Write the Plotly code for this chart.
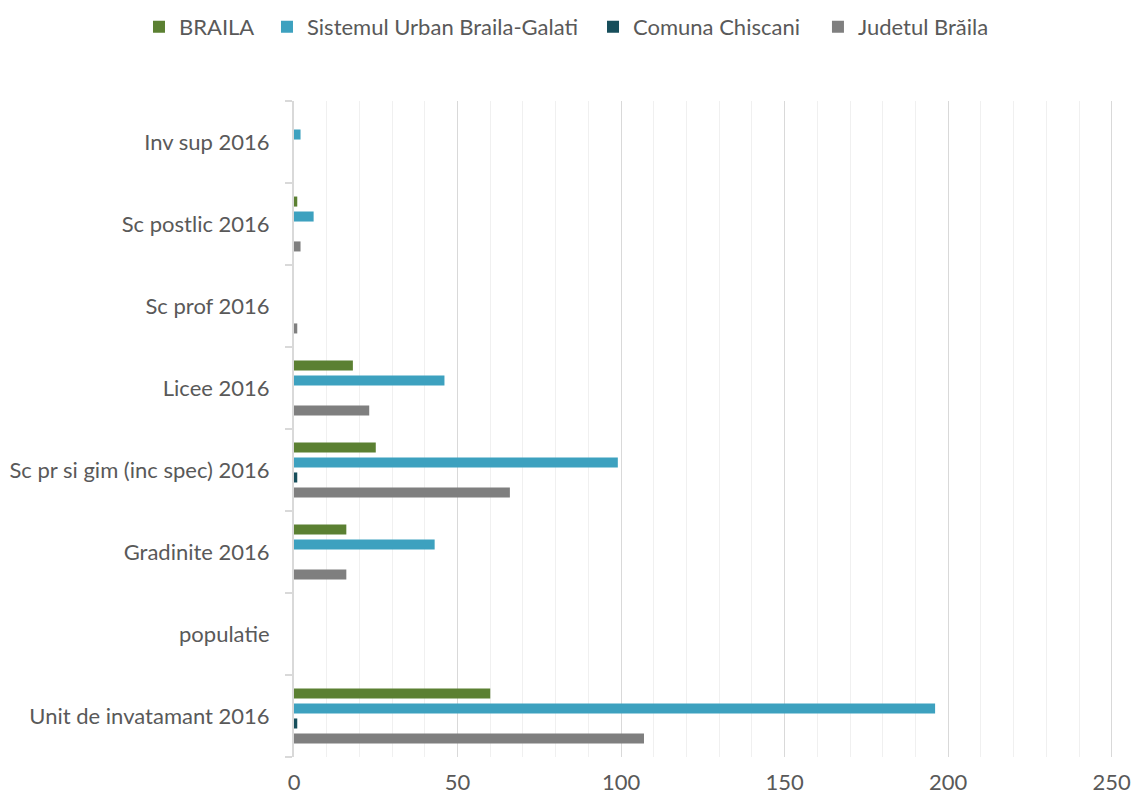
import plotly.graph_objects as go

categories = ["Unit de invatamant 2016", "populatie", "Gradinite 2016",
              "Sc pr si gim (inc spec) 2016", "Licee 2016", "Sc prof 2016",
              "Sc postlic 2016", "Inv sup 2016"]

braila = [60, 0, 16, 25, 18, 0, 1, 0]
sistemul = [196, 0, 43, 99, 46, 0, 6, 2]
chiscani = [1, 0, 0, 1, 0, 0, 0, 0]
judetul = [107, 0, 16, 66, 23, 1, 2, 0]

series = [
    ("BRAILA", braila, "#5B8032", "legend", -0.1888),
    ("Sistemul Urban Braila-Galati", sistemul, "#3DA1BF", "legend2", -0.0329),
    ("Comuna Chiscani", chiscani, "#174E5B", "legend3", 0.3642),
    ("Judetul Brăila", judetul, "#7F7F7F", "legend4", 0.6382),
]

font_family = "Lato, 'Open Sans', sans-serif"
TXT = "#595959"

fig = go.Figure()
# add in reverse so that BRAILA sits at the top of each group
for name, vals, col, leg, _ in reversed(series):
    fig.add_trace(go.Bar(
        y=categories, x=vals, name=name, orientation="h",
        marker=dict(color=col, line=dict(width=0)),
        legend=leg, showlegend=True,
    ))

legend_layout = {}
for name, vals, col, leg, lx in series:
    legend_layout[leg] = dict(orientation="h", x=lx, xanchor="left", y=1.113,
                              yanchor="middle", font=dict(size=22, color=TXT),
                              itemwidth=30, bgcolor="rgba(0,0,0,0)")

fig.update_layout(
    width=1131, height=797,
    showlegend=True,
    margin=dict(l=294, r=16, t=101, b=40, autoexpand=False),
    barmode="group", bargap=0.27, bargroupgap=0.33,
    plot_bgcolor="white", paper_bgcolor="white",
    font=dict(family=font_family, size=22, color=TXT),
    xaxis=dict(range=[0, 251], tickmode="linear", tick0=0, dtick=50,
               showgrid=True, gridcolor="#D9D9D9", gridwidth=1,
               minor=dict(dtick=10, showgrid=True, gridcolor="#F0F0F0", gridwidth=1),
               zeroline=False, showline=False, automargin=False,
               ticks="outside", ticklen=6, tickcolor="rgba(0,0,0,0)",
               ticklabeloverflow="allow",
               tickfont=dict(size=22, color=TXT)),
    yaxis=dict(type="category", categoryorder="array", categoryarray=categories,
               showline=True, linecolor="#D9D9D9", linewidth=2, automargin=False,
               ticks="outside", tickson="boundaries", ticklen=7, tickcolor="#D9D9D9",
               tickwidth=2, showgrid=False, ticklabelstandoff=18,
               tickfont=dict(size=22, color=TXT)),
    **legend_layout,
)

fig.write_html("out.html", config={"displayModeBar": False},
               post_script="document.body.style.margin='0';document.body.style.overflow='hidden';")
